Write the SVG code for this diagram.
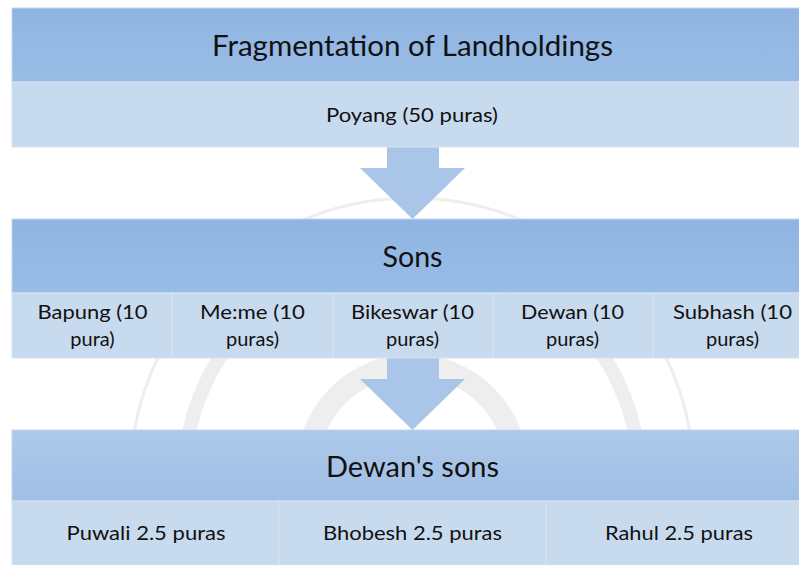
<svg xmlns="http://www.w3.org/2000/svg" width="799" height="565" viewBox="0 0 799 565">
<defs>
<linearGradient id="hdr" x1="0" y1="0" x2="0" y2="1">
<stop offset="0" stop-color="#8fb4e2"/><stop offset="0.5" stop-color="#94b9e4"/><stop offset="1" stop-color="#99bce5"/>
</linearGradient>
<linearGradient id="hdr3" x1="0" y1="0" x2="0" y2="1">
<stop offset="0" stop-color="#adc9ea"/><stop offset="1" stop-color="#a0bfe5"/>
</linearGradient>
</defs>
<style>
.hdr{fill:url(#hdr);stroke:#c2d6ee;stroke-width:1}
.hdr3{fill:url(#hdr3);stroke:#c2d6ee;stroke-width:1}
.cell{fill:#c8daee;stroke:#d6e3f2;stroke-width:1}
.arrow{fill:#a9c5e8}
.wm{fill:none;stroke:#8a8a8a;opacity:0.14}
.h{font-family:Lato,"Open Sans","Liberation Sans",sans-serif;font-size:29px;fill:#111;text-anchor:middle}
.t{font-family:Lato,"Open Sans","Liberation Sans",sans-serif;font-size:20px;fill:#111;text-anchor:middle}
</style>
<rect width="799" height="565" fill="#ffffff"/>
<g id="watermark">
<circle class="wm" cx="412" cy="480" r="282" stroke-width="3"/>
<circle class="wm" cx="412" cy="480" r="228" stroke-width="14"/>
<circle class="wm" cx="412" cy="470" r="105" stroke-width="22"/>
</g>
<g id="connectors">
<polygon class="arrow" points="387,147 439,147 439,168 465,168 412.5,219 360,168 387,168"/>
<polygon class="arrow" points="387,358 439,358 439,379 465,379 412.5,430 360,379 387,379"/>
</g>
<g id="node-fragmentation">
<rect class="hdr" x="12" y="8" width="801" height="74"/>
<text class="h" x="412.5" y="56" textLength="401" lengthAdjust="spacingAndGlyphs">Fragmentation of Landholdings</text>
</g>
<g id="node-poyang">
<rect class="cell" x="12" y="82" width="801" height="65"/>
<text class="t" x="412" y="122" textLength="172" lengthAdjust="spacingAndGlyphs">Poyang (50 puras)</text>
</g>
<g id="node-sons">
<rect class="hdr" x="12" y="219" width="801" height="74"/>
<text class="h" x="412.5" y="267" textLength="60" lengthAdjust="spacingAndGlyphs">Sons</text>
</g>
<g id="node-bapung">
<rect class="cell" x="12" y="293" width="160" height="65"/>
<text class="t" x="92.5" y="319" textLength="110" lengthAdjust="spacingAndGlyphs">Bapung (10</text>
<text class="t" x="92.5" y="346">pura)</text>
</g>
<g id="node-meme">
<rect class="cell" x="172" y="293" width="161" height="65"/>
<text class="t" x="252.5" y="319" textLength="105" lengthAdjust="spacingAndGlyphs">Me:me (10</text>
<text class="t" x="252.5" y="346">puras)</text>
</g>
<g id="node-bikeswar">
<rect class="cell" x="333" y="293" width="160" height="65"/>
<text class="t" x="412.5" y="319" textLength="123" lengthAdjust="spacingAndGlyphs">Bikeswar (10</text>
<text class="t" x="412.5" y="346">puras)</text>
</g>
<g id="node-dewan">
<rect class="cell" x="493" y="293" width="160" height="65"/>
<text class="t" x="572.5" y="319" textLength="103" lengthAdjust="spacingAndGlyphs">Dewan (10</text>
<text class="t" x="572.5" y="346">puras)</text>
</g>
<g id="node-subhash">
<rect class="cell" x="653" y="293" width="160" height="65"/>
<text class="t" x="732.5" y="319" textLength="119" lengthAdjust="spacingAndGlyphs">Subhash (10</text>
<text class="t" x="732.5" y="346">puras)</text>
</g>
<g id="node-dewans-sons">
<rect class="hdr3" x="12" y="430" width="801" height="71"/>
<text class="h" x="412.5" y="477" textLength="173" lengthAdjust="spacingAndGlyphs">Dewan's sons</text>
</g>
<g id="node-puwali">
<rect class="cell" x="12" y="501" width="267" height="70"/>
<text class="t" x="146" y="540" textLength="159" lengthAdjust="spacingAndGlyphs">Puwali 2.5 puras</text>
</g>
<g id="node-bhobesh">
<rect class="cell" x="279" y="501" width="267" height="70"/>
<text class="t" x="412.5" y="540" textLength="179" lengthAdjust="spacingAndGlyphs">Bhobesh 2.5 puras</text>
</g>
<g id="node-rahul">
<rect class="cell" x="546" y="501" width="267" height="70"/>
<text class="t" x="679" y="540" textLength="148" lengthAdjust="spacingAndGlyphs">Rahul 2.5 puras</text>
</g>
</svg>
